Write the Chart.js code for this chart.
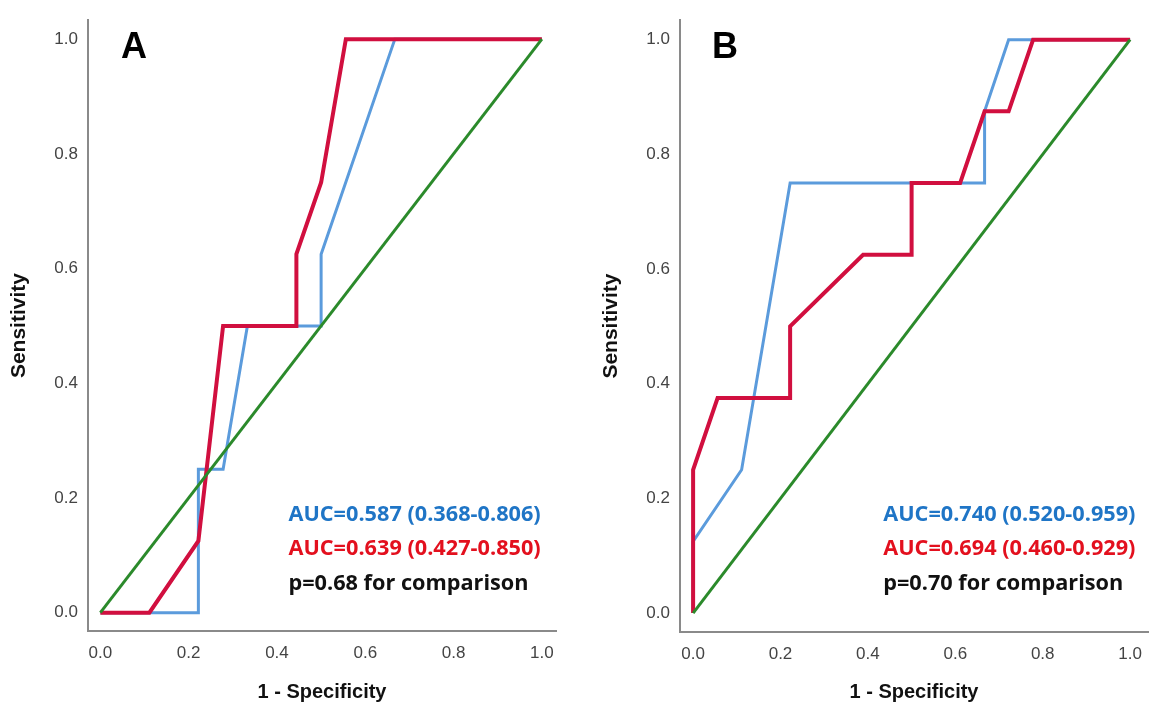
<!DOCTYPE html>
<html>
<head>
<meta charset="utf-8">
<script src="https://cdn.jsdelivr.net/npm/chart.js@4"></script>
<style>
    body { margin: 0; background: #fff; }
    canvas { position: absolute; top: 0; }
    #roc-a { left: 0; }
    #roc-b { left: 592px; }
</style>
</head>
<body>
<canvas id="roc-a" width="580" height="707"></canvas>
<canvas id="roc-b" width="562" height="707"></canvas>
<script>
// --- Data ---
const tickValues = [0, 0.2, 0.4, 0.6, 0.8, 1.0];
const refX = [0, 1];
const refY = [0, 1];

// panel A
const aBlueX = [0, 0.222, 0.222, 0.278, 0.333, 0.5, 0.5, 0.667, 1];
const aBlueY = [0, 0, 0.25, 0.25, 0.5, 0.5, 0.625, 1, 1];
const aRedX = [0, 0.111, 0.222, 0.278, 0.444, 0.444, 0.5, 0.556, 1];
const aRedY = [0, 0, 0.125, 0.5, 0.5, 0.625, 0.75, 1, 1];
const aNotes = ['AUC=0.587 (0.368-0.806)', 'AUC=0.639 (0.427-0.850)', 'p=0.68 for comparison'];

// panel B
const bBlueX = [0, 0, 0.111, 0.222, 0.667, 0.667, 0.722, 1];
const bBlueY = [0, 0.125, 0.25, 0.75, 0.75, 0.875, 1, 1];
const bRedX = [0, 0, 0.056, 0.222, 0.222, 0.389, 0.5, 0.5, 0.611, 0.667, 0.722, 0.778, 1];
const bRedY = [0, 0.25, 0.375, 0.375, 0.5, 0.625, 0.625, 0.75, 0.75, 0.875, 0.875, 1, 1];
const bNotes = ['AUC=0.740 (0.520-0.959)', 'AUC=0.694 (0.460-0.929)', 'p=0.70 for comparison'];

const BLUE = '#5b9bdc';
const RED = '#d10f3f';
const GREEN = '#2b8a2b';
const noteColors = ['#1f75c6', '#e3101e', '#111111'];

document.addEventListener('DOMContentLoaded', () => {

    function toPoints(xs, ys) {
        return xs.map((x, i) => ({ x: x, y: ys[i] }));
    }

    // draws the panel letter and the AUC notes inside the plot area
    const notesPlugin = {
        id: 'notes',
        afterDatasetsDraw(chart, args, opts) {
            const ctx = chart.ctx;
            const xs = chart.scales.x;
            const ys = chart.scales.y;
            ctx.save();
            ctx.textBaseline = 'middle';
            ctx.textAlign = 'left';
            ctx.fillStyle = '#000';
            ctx.font = 'bold 36px "Liberation Sans", Arial, sans-serif';
            ctx.fillText(opts.letter, xs.getPixelForValue(opts.letterX), ys.getPixelForValue(opts.letterY));
            ctx.font = 'bold 21.7px "Open Sans", sans-serif';
            opts.lines.forEach((text, i) => {
                ctx.fillStyle = noteColors[i];
                ctx.fillText(text, xs.getPixelForValue(opts.noteX), ys.getPixelForValue(opts.noteY[i]));
            });
            ctx.restore();
        }
    };

    function makeChart(canvas, blue, red, notes, box) {
        return new Chart(canvas, {
            type: 'line',
            data: {
                datasets: [
                    { data: toPoints(refX, refY), borderColor: GREEN, borderWidth: 3 },
                    { data: toPoints(red[0], red[1]), borderColor: RED, borderWidth: 4 },
                    { data: toPoints(blue[0], blue[1]), borderColor: BLUE, borderWidth: 3 }
                ]
            },
            options: {
                responsive: false,
                animation: false,
                layout: { padding: { top: box.top, right: box.right, left: 0, bottom: 0 } },
                elements: { point: { radius: 0 }, line: { tension: 0, borderCapStyle: 'butt', borderJoinStyle: 'miter' } },
                scales: {
                    x: {
                        type: 'linear',
                        min: box.xMin,
                        max: box.xMax,
                        afterBuildTicks: (scale) => { scale.ticks = tickValues.map(v => ({ value: v })); },
                        afterFit: (scale) => { scale.height = box.xHeight; },
                        grid: { display: false, drawTicks: false },
                        border: { display: true, color: '#8a8a8a', width: 2 },
                        ticks: {
                            padding: 12,
                            color: '#444',
                            font: { family: '"Liberation Sans", Arial, sans-serif', size: 17 },
                            callback: (v) => v.toFixed(1)
                        },
                        title: {
                            display: true,
                            text: '1 - Specificity',
                            color: '#111',
                            font: { family: '"Liberation Sans", Arial, sans-serif', size: 20, weight: 'bold' },
                            padding: { top: 0, bottom: 3 }
                        }
                    },
                    y: {
                        type: 'linear',
                        min: box.yMin,
                        max: box.yMax,
                        afterBuildTicks: (scale) => { scale.ticks = tickValues.map(v => ({ value: v })); },
                        afterFit: (scale) => { scale.width = 88; },
                        grid: { display: false, drawTicks: false },
                        border: { display: true, color: '#8a8a8a', width: 2 },
                        ticks: {
                            padding: 10,
                            color: '#444',
                            font: { family: '"Liberation Sans", Arial, sans-serif', size: 17 },
                            callback: (v) => v.toFixed(1)
                        },
                        title: {
                            display: true,
                            text: 'Sensitivity',
                            color: '#111',
                            font: { family: '"Liberation Sans", Arial, sans-serif', size: 21, weight: 'bold' },
                            padding: { top: 7, bottom: 0 }
                        }
                    }
                },
                plugins: {
                    legend: { display: false },
                    tooltip: { enabled: false },
                    notes: {
                        letter: box.letter,
                        letterX: box.letterX,
                        letterY: 0.985,
                        lines: notes,
                        noteX: box.noteX,
                        noteY: [0.171, 0.112, 0.051]
                    }
                }
            },
            plugins: [notesPlugin]
        });
    }

    // --- Panels ---
    makeChart(document.getElementById('roc-a'), [aBlueX, aBlueY], [aRedX, aRedY], aNotes, {
        top: 16, right: 24, xHeight: 76,
        xMin: -0.028, xMax: 1.032, yMin: -0.032, yMax: 1.033,
        letter: 'A', letterX: 0.047, noteX: 0.426
    });

    makeChart(document.getElementById('roc-b'), [bBlueX, bBlueY], [bRedX, bRedY], bNotes, {
        top: 11, right: 2, xHeight: 75,
        xMin: -0.030, xMax: 1.041, yMin: -0.033, yMax: 1.034,
        letter: 'B', letterX: 0.043, noteX: 0.435
    });
});
</script>
</body>
</html>
